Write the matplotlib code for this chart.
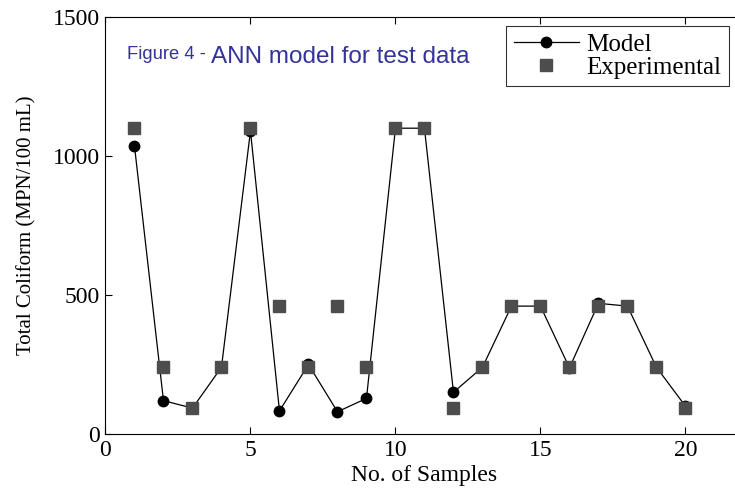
import numpy as np
import matplotlib.pyplot as plt

# Test data: sample number, measured and predicted total coliform
samples = np.arange(1, 21)
experimental = [1100, 240, 93, 240, 1100, 460, 240, 460, 240, 1100,
                1100, 93, 240, 460, 460, 240, 460, 460, 240, 93]
model = [1036, 120, 93, 240, 1090, 83, 250, 80, 128, 1100,
         1100, 150, 240, 460, 460, 238, 470, 460, 240, 100]

serif = "Liberation Serif"

fig = plt.figure(figsize=(7.35, 4.9), dpi=100)
ax = fig.add_axes([0.1435, 0.1143, 0.868, 0.851])

ax.plot(samples, model, color="black", lw=0.9, marker="o", ms=7.5,
        mfc="black", mec="black", label="Model", zorder=2)
ax.plot(samples, experimental, ls="none", marker="s", ms=8.5,
        mfc="#4d4d4d", mec="#4d4d4d", label="Experimental", zorder=3)

ax.set_xlim(0, 22)
ax.set_ylim(0, 1500)
ax.set_xticks([0, 5, 10, 15, 20])
ax.set_yticks([0, 500, 1000, 1500])
ax.tick_params(direction="in", top=True, right=True, length=5, width=0.8,
               labelsize=17, pad=4)
for lab in ax.get_xticklabels() + ax.get_yticklabels():
    lab.set_fontfamily(serif)
for sp in ax.spines.values():
    sp.set_linewidth(0.8)

ax.set_xlabel("No. of Samples", fontfamily=serif, fontsize=17, labelpad=3)
ax.set_ylabel("Total Coliform (MPN/100 mL)", fontfamily=serif, fontsize=15,
              labelpad=12)

leg = ax.legend(loc="upper right", bbox_to_anchor=(0.977, 0.978),
                prop={"family": serif, "size": 18}, frameon=True,
                fancybox=False, edgecolor="black", handlelength=2.6,
                borderpad=0.3, labelspacing=0.0, handletextpad=0.3,
                borderaxespad=0)
leg.get_frame().set_linewidth(0.8)

# Figure caption inside the plot area, two sizes on one baseline
t1 = fig.text(127 / 735, 1 - 59 / 490, "Figure 4 - ", color="#33339a",
              fontsize=13.2, fontfamily="Liberation Sans", va="baseline")
ax.annotate("ANN model for test data", xy=(1, 0), xycoords=t1,
            va="baseline", ha="left", color="#33339a", fontsize=17.5,
            fontfamily="Liberation Sans")

fig.savefig("out.png", dpi=100)
